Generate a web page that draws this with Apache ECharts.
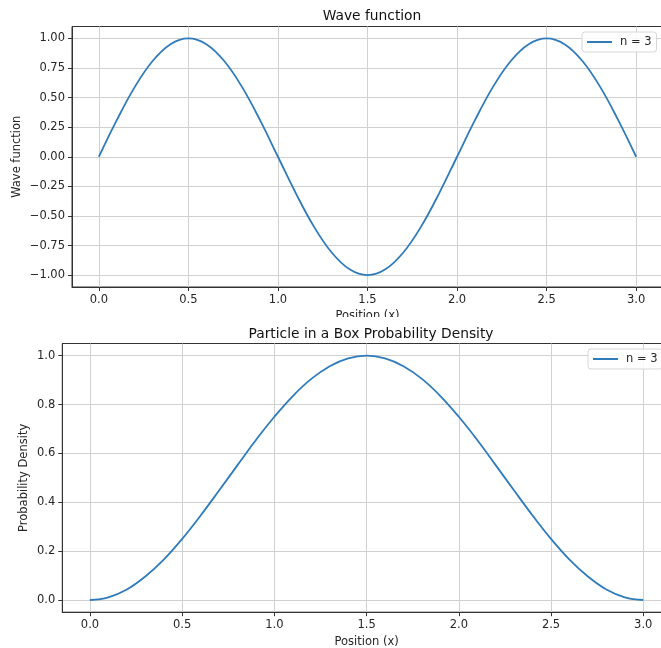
<!DOCTYPE html>
<html>
<head>
<meta charset="utf-8">
<script src="https://cdn.jsdelivr.net/npm/echarts@6/dist/echarts.min.js"></script>
<style>
  html, body { margin: 0; padding: 0; background: #fff; }
  #chart { width: 661px; height: 648px; }
</style>
</head>
<body>
<div id="chart"></div>
<script>
// positions along the box (0 .. 3)
const positions = [
  0.0, 0.1, 0.2, 0.3, 0.4, 0.5, 0.6, 0.7, 0.8, 0.9,
  1.0, 1.1, 1.2, 1.3, 1.4, 1.5, 1.6, 1.7, 1.8, 1.9,
  2.0, 2.1, 2.2, 2.3, 2.4, 2.5, 2.6, 2.7, 2.8, 2.9, 3.0
];
// top panel: wave function, n = 3
const waveValues = [
  0.000, 0.309, 0.588, 0.809, 0.951, 1.000, 0.951, 0.809, 0.588, 0.309,
  0.000, -0.309, -0.588, -0.809, -0.951, -1.000, -0.951, -0.809, -0.588, -0.309,
  0.000, 0.309, 0.588, 0.809, 0.951, 1.000, 0.951, 0.809, 0.588, 0.309, 0.000
];
// bottom panel: probability density, n = 3
const densityValues = [
  0.000, 0.011, 0.043, 0.096, 0.165, 0.250, 0.346, 0.448, 0.552, 0.655,
  0.750, 0.835, 0.905, 0.957, 0.989, 1.000, 0.989, 0.957, 0.905, 0.835,
  0.750, 0.655, 0.552, 0.448, 0.346, 0.250, 0.165, 0.096, 0.043, 0.011, 0.000
];
const xTicks = [0, 0.5, 1, 1.5, 2, 2.5, 3];
const waveTicks = [-1, -0.75, -0.5, -0.25, 0, 0.25, 0.5, 0.75, 1];
const densityTicks = [0, 0.2, 0.4, 0.6, 0.8, 1];
const seriesName = 'n = 3';

const FONT = 'DejaVu Sans';
const TEXT = '#262626';
const LINE = '#2f7bbb';
const GRIDLINE = '#d0d0d0';

const chart = echarts.init(document.getElementById('chart'), null, { renderer: 'canvas' });

const minus = v => String(v).replace('-', '\u2212');

function xAxisFor(gridIndex, nameGap) {
  return {
    type: 'value', gridIndex: gridIndex, min: -0.15, max: 3.15,
    name: 'Position (x)', nameLocation: 'middle', nameGap: nameGap, nameMoveOverlap: false,
    nameTextStyle: { fontFamily: FONT, fontSize: 11.5, color: TEXT },
    axisLine: { show: true, onZero: false, lineStyle: { color: '#333', width: 1 } },
    axisTick: { show: true, length: 4, customValues: xTicks, lineStyle: { color: '#333' } },
    axisLabel: {
      customValues: xTicks, margin: 7,
      fontFamily: FONT, fontSize: 11.5, color: TEXT,
      formatter: v => v.toFixed(1)
    },
    splitLine: { show: true, lineStyle: { color: GRIDLINE, width: 1 } }
  };
}

function yAxisFor(gridIndex, min, max, ticks, digits, name, nameGap) {
  return {
    type: 'value', gridIndex: gridIndex, min: min, max: max,
    name: name, nameLocation: 'middle', nameGap: nameGap, nameMoveOverlap: false,
    nameTextStyle: { fontFamily: FONT, fontSize: 11.5, color: TEXT },
    axisLine: { show: true, onZero: false, lineStyle: { color: '#333', width: 1 } },
    axisTick: { show: true, length: 4, customValues: ticks, lineStyle: { color: '#333' } },
    axisLabel: {
      customValues: ticks, margin: 7,
      fontFamily: FONT, fontSize: 11.5, color: TEXT,
      formatter: v => minus(v.toFixed(digits))
    },
    splitLine: { show: true, lineStyle: { color: GRIDLINE, width: 1 } }
  };
}

function legendAt(left, top) {
  return {
    left: left, top: top, orient: 'vertical',
    data: [{ name: seriesName, icon: 'rect' }],
    itemWidth: 25, itemHeight: 2,
    padding: [4, 5, 4, 5],
    borderColor: '#d6d6d6', borderWidth: 1, borderRadius: 3,
    backgroundColor: 'rgba(255,255,255,0.85)',
    textStyle: { fontFamily: FONT, fontSize: 11.5, color: TEXT, padding: [0, 0, 0, 3] }
  };
}

const option = {
  backgroundColor: '#fff',
  animation: false,
  title: [
    {
      text: 'Wave function', left: 367, top: 4, textAlign: 'center',
      textStyle: { fontFamily: FONT, fontSize: 13.8, fontWeight: 'normal', color: '#111' }
    },
    {
      text: 'Particle in a Box Probability Density', left: 366, top: 322, textAlign: 'center',
      textStyle: { fontFamily: FONT, fontSize: 13.8, fontWeight: 'normal', color: '#111' }
    }
  ],
  legend: [legendAt(582, 32), legendAt(588, 349)],
  grid: [
    {
      left: 72, top: 26.5, width: 591, height: 260.5, outerBoundsMode: 'none',
      show: true, borderColor: '#333', borderWidth: 1, backgroundColor: 'transparent'
    },
    {
      left: 62.3, top: 343.5, width: 608.6, height: 268.7, outerBoundsMode: 'none',
      show: true, borderColor: '#333', borderWidth: 1, backgroundColor: 'transparent'
    }
  ],
  xAxis: [xAxisFor(0, 23), xAxisFor(1, 24)],
  yAxis: [
    yAxisFor(0, -1.1, 1.1, waveTicks, 2, 'Wave function', 49),
    yAxisFor(1, -0.05, 1.05, densityTicks, 1, 'Probability Density', 32)
  ],
  series: [
    {
      name: seriesName, type: 'line', xAxisIndex: 0, yAxisIndex: 0,
      data: positions.map((x, i) => [x, waveValues[i]]),
      showSymbol: false, symbol: 'none', smooth: 0.4,
      lineStyle: { color: LINE, width: 1.8 }, itemStyle: { color: LINE }
    },
    {
      name: seriesName, type: 'line', xAxisIndex: 1, yAxisIndex: 1,
      data: positions.map((x, i) => [x, densityValues[i]]),
      showSymbol: false, symbol: 'none', smooth: 0.4,
      lineStyle: { color: LINE, width: 1.8 }, itemStyle: { color: LINE }
    }
  ],
  // the lower figure covers the bottom of the upper x-axis label
  graphic: [
    { type: 'rect', z: 100, shape: { x: 0, y: 317, width: 661, height: 6 }, style: { fill: '#fff' } }
  ]
};

chart.setOption(option);
</script>
</body>
</html>
